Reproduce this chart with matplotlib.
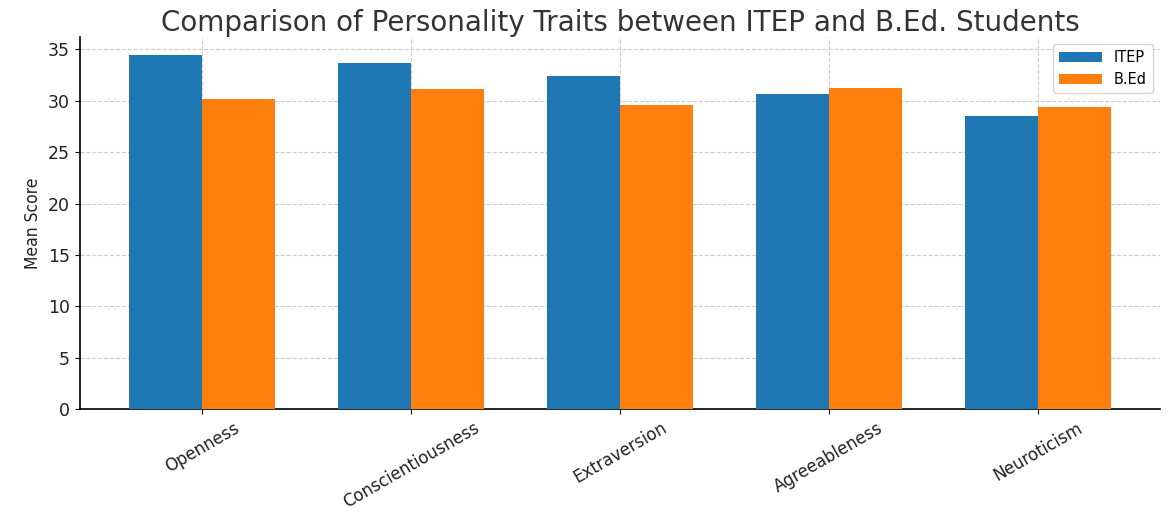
import matplotlib
matplotlib.use("Agg")
import matplotlib.pyplot as plt
import numpy as np

traits = ["Openness", "Conscientiousness", "Extraversion", "Agreeableness", "Neuroticism"]
itep = [34.5, 33.7, 32.4, 30.7, 28.5]
bed = [30.2, 31.1, 29.6, 31.2, 29.4]
series_labels = ["ITEP", "B.Ed"]

fig = plt.figure(figsize=(11.73, 5.19), dpi=100)
ax = fig.add_axes([0.068, 0.212, 0.921, 0.717])

x = np.arange(len(traits))
w = 0.35
ax.bar(x - w / 2, itep, w, color="#1f77b4", label=series_labels[0], zorder=3)
ax.bar(x + w / 2, bed, w, color="#ff7f0e", label=series_labels[1], zorder=3)

ax.set_xticks(x)
ax.set_xticklabels(traits, rotation=30, ha="center", fontsize=12, color="#222222")
ax.tick_params(axis="y", labelsize=12.5, labelcolor="#222222")
ax.set_ylabel("Mean Score", fontsize=12.5, fontstretch="condensed", color="#222222")
ax.set_title("Comparison of Personality Traits between ITEP and B.Ed. Students",
             fontsize=20, color="#333333", pad=3)
ax.grid(True, linestyle="--", color="#cccccc", linewidth=0.8, zorder=0)
ax.spines["top"].set_visible(False)
ax.spines["right"].set_visible(False)
ax.spines["left"].set_linewidth(1.2)
ax.spines["bottom"].set_linewidth(1.2)
ax.legend(loc="upper right", fontsize=10.5, frameon=True, handlelength=3)

fig.savefig("out.png", dpi=100)
